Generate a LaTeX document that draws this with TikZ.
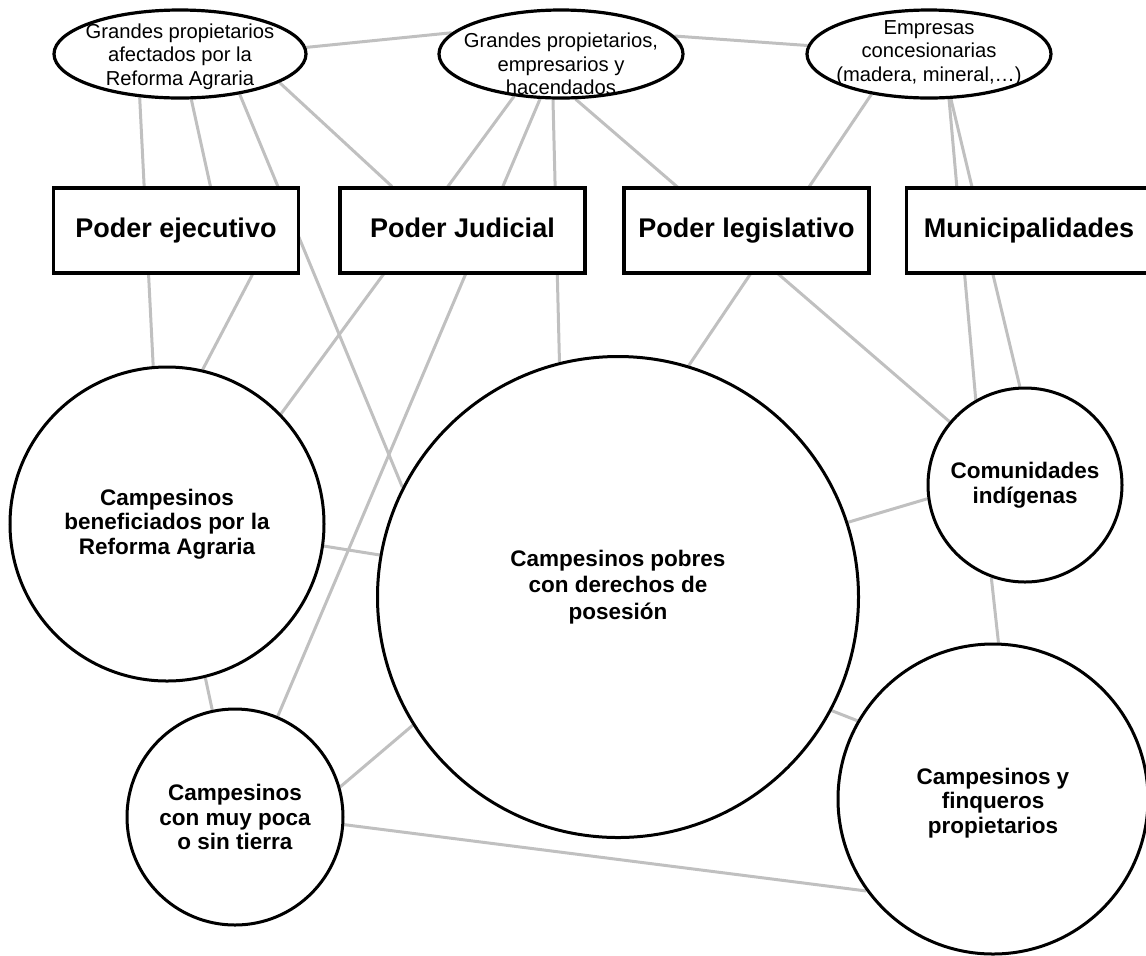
\documentclass[tikz,border=0pt]{standalone}
\usepackage{fontspec}
\setmainfont{Liberation Sans}
\usetikzlibrary{shapes.geometric,backgrounds}
\definecolor{linkgray}{RGB}{192,192,192}
\tikzset{
  actor/.style={ellipse, draw, line width=1.6pt, fill=white, minimum height=44pt, inner sep=0pt},
  actortext/.style={align=center, inner sep=0pt, font=\fontsize{10.1}{11.75}\selectfont},
  branch/.style={rectangle, draw, line width=1.6pt, fill=white, minimum width=122.5pt,
    minimum height=42.5pt, text height=9.7pt, text depth=2.8pt,
    font=\fontsize{13.5}{16}\selectfont\bfseries},
  grouptext/.style={align=center, inner sep=0pt, font=\fontsize{11.25}{12.3}\selectfont\bfseries},
  group/.style={circle, draw, line width=1.5pt, fill=white, grouptext},
  link/.style={draw=linkgray, line width=1.5pt}
}

\begin{document}
\begin{tikzpicture}[x=0.5pt, y=-0.5pt]
  \useasboundingbox (0,0) rectangle (1146,955);

  % grandes actores
  \node[actor, minimum width=126pt,
    label={[actortext, yshift=-1.3pt]center:Grandes propietarios\\afectados por la\\Reforma Agraria}] (propaf) at (180,54) {};
  \node[actor, minimum width=122pt,
    label={[actortext, yshift=-5pt]center:Grandes propietarios,\\empresarios y\\hacendados}] (propemp) at (561,54) {};
  \node[actor, minimum width=122pt,
    label={[actortext, yshift=0.6pt]center:Empresas\\concesionarias\\(madera, mineral,…)}] (empresas) at (929,54) {};

  % poderes del estado
  \node[branch] (ejecutivo) at (176,230.5) {Poder ejecutivo};
  \node[branch] (judicial) at (462.5,230.5) {Poder Judicial};
  \node[branch] (legislativo) at (746.5,230.5) {Poder legislativo};
  \node[branch] (municipios) at (1029,230.5) {Municipalidades};

  % campesinos
  \node[group, minimum size=157pt] (beneficiados) at (167,524) {Campesinos\\beneficiados por la\\Reforma Agraria};
  \node[group, minimum size=240.5pt,
    label={[grouptext, font=\fontsize{11.25}{13.2}\selectfont\bfseries, yshift=5pt]center:Campesinos pobres\\con derechos de\\posesión}] (pobres) at (618,597) {};
  \node[group, minimum size=97pt] (indigenas) at (1025,485) {Comunidades\\indígenas};
  \node[group, minimum size=108pt] (sintierra) at (235,817) {Campesinos\\con muy poca\\o sin tierra};
  \node[group, minimum size=155pt,
    label={[grouptext, yshift=-2pt]center:Campesinos y\\finqueros\\propietarios}] (finqueros) at (993,799) {};

  \begin{scope}[on background layer]
    \draw[link] (propaf.3) -- (propemp.169);
    \draw[link] (propemp.9) -- (empresas.176);

    \draw[link] (propaf.-133) -- (beneficiados.95);
    \draw[link] (propaf.-76) -- (ejecutivo.52.5);
    \draw[link] (propaf.-34) -- (pobres.153);
    \draw[link] (propaf.-16) -- (judicial.148);

    \draw[link] (propemp.-138) -- (beneficiados.44);
    \draw[link] (propemp.-115) -- (sintierra.67);
    \draw[link] (propemp.-100) -- (pobres.104);
    \draw[link] (propemp.-72) -- (indigenas.140);

    \draw[link] (empresas.-145) -- (pobres.73);
    \draw[link] (empresas.-66) -- (indigenas.120);
    \draw[link] (empresas.-64) -- (indigenas.93);

    \draw[link] (ejecutivo.-30) -- (beneficiados.77);

    \draw[link] (beneficiados.-8) -- (pobres.170);
    \draw[link] (beneficiados.-76) -- (sintierra.102);
    \draw[link] (pobres.-148) -- (sintierra.16);
    \draw[link] (sintierra.-4) -- (finqueros.-144);
    \draw[link] (pobres.-28) -- (finqueros.150);
    \draw[link] (pobres.18) -- (indigenas.188);
    \draw[link] (indigenas.-110) -- (finqueros.88);
  \end{scope}
\end{tikzpicture}
\end{document}
